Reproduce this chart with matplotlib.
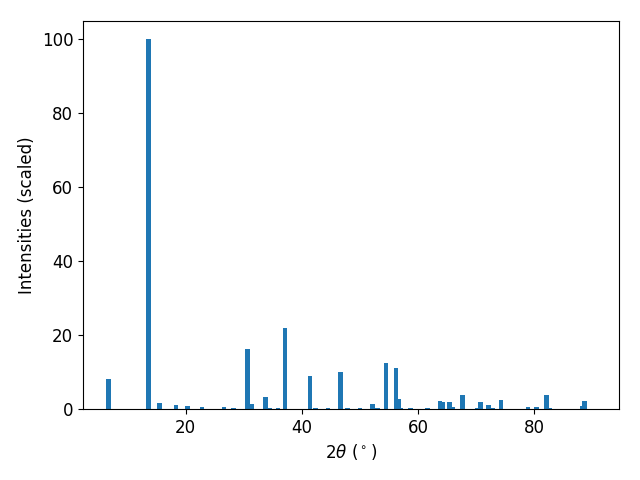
import matplotlib
matplotlib.use("Agg")
import matplotlib.pyplot as plt

plt.rcParams["font.size"] = 12

# peak positions (2theta, degrees) and scaled intensities
two_theta = [6.7, 13.6, 15.5, 18.3, 20.3, 22.8, 26.6, 28.2, 30.6, 31.4,
             33.7, 34.4, 35.9, 37.1, 41.4, 42.3, 44.5, 46.6, 47.8, 50.0,
             52.1, 53.0, 54.5, 56.2, 56.6, 57.0, 58.7, 61.6, 63.8, 64.3,
             65.4, 65.9, 67.6, 70.2, 70.7, 72.1, 72.8, 74.3, 78.9, 80.4,
             82.1, 82.7, 88.3, 88.7]
intensity = [8.1, 100, 1.6, 1.1, 0.8, 0.55, 0.55, 0.3, 16.2, 1.35,
             3.25, 0.3, 0.3, 21.9, 8.9, 0.3, 0.3, 10.0, 0.3, 0.3,
             1.35, 0.3, 12.4, 11.1, 2.7, 0.3, 0.3, 0.3, 2.2, 1.9,
             1.9, 0.5, 3.8, 0.3, 1.9, 1.1, 0.3, 2.4, 0.55, 0.55,
             3.8, 0.3, 0.8, 2.2]

fig, ax = plt.subplots(figsize=(6.4, 4.8), dpi=100)
ax.bar(two_theta, intensity, width=0.8)
ax.set_xlim(2.3, 94.6)
ax.set_xlabel(r"2$\theta$ ($^\circ$)")
ax.set_ylabel("Intensities (scaled)")
fig.subplots_adjust(left=83/640, right=619/640, top=1-21/480, bottom=1-409/480)
fig.savefig("out.png")
